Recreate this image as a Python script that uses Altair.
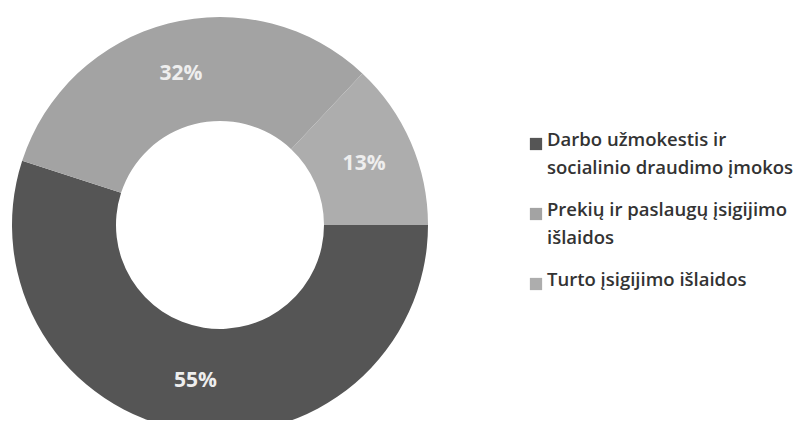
import altair as alt
import pandas as pd
import math

categories = [
    "Darbo užmokestis ir|socialinio draudimo įmokos",
    "Prekių ir paslaugų įsigijimo|išlaidos",
    "Turto įsigijimo išlaidos",
]
values = [55, 32, 13]
labels = ["55%", "32%", "13%"]
colors = ["#555555", "#a3a3a3", "#adadad"]
order_idx = [0, 1, 2]

df = pd.DataFrame({"cat": categories, "value": values, "label": labels, "ord": order_idx})

start = math.pi / 2
theta_scale = alt.Scale(range=[start, start + 2 * math.pi])
color_scale = alt.Scale(domain=categories, range=colors)

base = alt.Chart(df).encode(
    theta=alt.Theta("value:Q", stack=True, scale=theta_scale),
    order=alt.Order("ord:Q"),
)

arcs = base.mark_arc(outerRadius=208, innerRadius=104, stroke=None).encode(
    x=alt.value(212),
    y=alt.value(217),
    color=alt.Color("cat:N", scale=color_scale, legend=None),
)

text = base.mark_text(
    radius=157, font="Open Sans", fontSize=21, fontWeight="bold", color="#eeeeee", dy=1
).encode(
    x=alt.value(212),
    y=alt.value(217),
    text="label:N",
)

# Manual legend (squares + wrapped labels)
legend_y = alt.Y("ord:Q", scale=alt.Scale(domain=[0, 2], range=[136, 276]), axis=None)

leg_sq = alt.Chart(df).mark_square(size=150, opacity=1).encode(
    x=alt.value(528),
    y=legend_y,
    color=alt.Color("cat:N", scale=color_scale, legend=None),
)

leg_txt = alt.Chart(df).mark_text(
    align="left",
    baseline="top",
    dy=-13,
    lineBreak="|",
    lineHeight=28,
    font="Open Sans",
    fontSize=18.5,
    fontWeight=600,
    color="#333333",
).encode(
    x=alt.value(539),
    y=legend_y,
    text="cat:N",
)

chart = (
    alt.layer(arcs, text, leg_sq, leg_txt)
    .properties(width=786, height=412, autosize=alt.AutoSizeParams(type="none"), padding=0)
    .configure_view(stroke=None)
)

chart.save("out.html", embed_options={"renderer": "svg", "actions": False})
